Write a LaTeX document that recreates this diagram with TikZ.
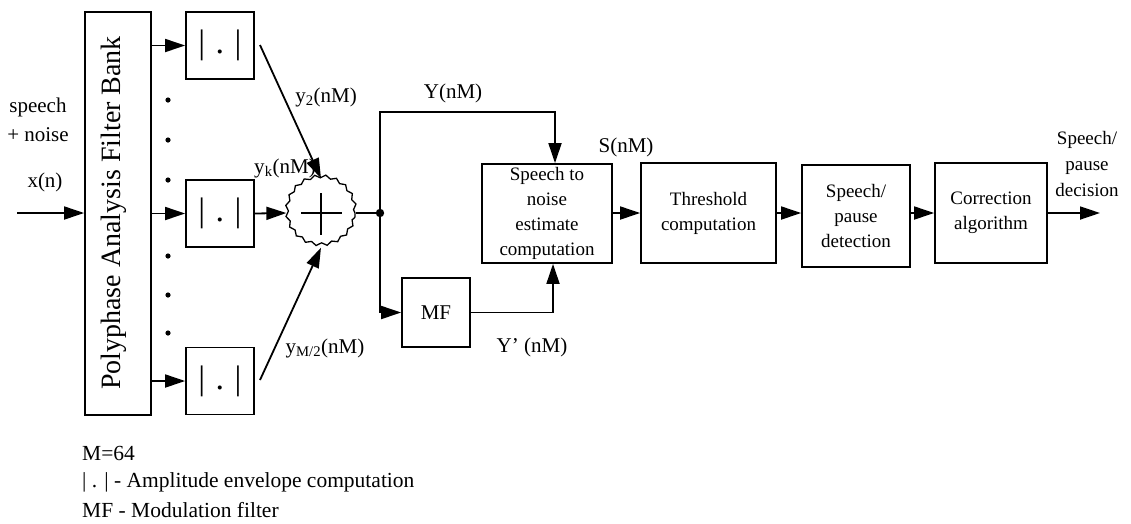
\documentclass[tikz,border=0pt]{standalone}
\usepackage{fontspec}
\setmainfont{Liberation Serif}
\usetikzlibrary{arrows.meta,decorations.pathmorphing}
\begin{document}
\begin{tikzpicture}[x=1pt,y=-1pt,
  box/.style={draw,line width=1.8pt,inner sep=0pt,align=center,font=\fontsize{19}{25}\selectfont},
  absbox/.style={box,minimum width=68pt,minimum height=67pt,font=\fontsize{34}{34}\selectfont},
  lbl/.style={inner sep=0pt,align=center,font=\fontsize{21}{27}\selectfont},
  legend/.style={inner sep=0pt,anchor=west,font=\fontsize{21.5}{26}\selectfont},
  arr/.style={line width=1.8pt,-{Triangle[length=20pt,width=13pt]}},
  ln/.style={line width=1.8pt}]
\useasboundingbox (0,0) rectangle (1131,523);
% filter bank
\node[box,minimum width=66pt,minimum height=403pt] (pfb) at (118,213.5) {};
\node[rotate=90,inner sep=0pt,font=\fontsize{28}{30}\selectfont] (pfbt) at (114,213) {Polyphase Analysis Filter Bank};
% envelope boxes
\node[absbox] (a1) at (220,45.5) {|\hspace{10.5pt}.\hspace{10.5pt}|};
\node[absbox] (a2) at (220,213.5) {|\hspace{10.5pt}.\hspace{10.5pt}|};
\node[absbox] (a3) at (220,381) {|\hspace{10.5pt}.\hspace{10.5pt}|};
% dots
\foreach \yy in {100,140,180,256,295,333} \fill (168,\yy) circle (2.6pt);
% summer
\node[circle,draw,line width=1.3pt,minimum size=68pt,inner sep=0pt,decorate,
      decoration={snake,segment length=10.68pt,amplitude=1.5pt}] (sum) at (321,213) {};
\draw[ln] ([xshift=-20pt]sum.center) -- ([xshift=21pt]sum.center);
\draw[ln] ([yshift=20pt]sum.center) -- ([yshift=-22pt]sum.center);
% other blocks
\node[box,minimum width=130pt,minimum height=99pt] (sne) at (547,213.5) {Speech to\\noise\\estimate\\computation};
\node[box,minimum width=68pt,minimum height=69pt,font=\fontsize{21}{25}\selectfont] (mf) at (436,312.5) {MF};
\node[box,minimum width=135pt,minimum height=100pt] (thr) at (708.5,213) {Threshold\\computation};
\node[box,minimum width=108pt,minimum height=102pt] (spd) at (856,216) {Speech/\\pause\\detection};
\node[box,minimum width=112pt,minimum height=100pt] (cor) at (991,213) {Correction\\algorithm};
% coordinates
\coordinate (in) at (17,213);
\coordinate (d1) at (260,45);
\coordinate (d3) at (260,380);
\coordinate (j) at (380,213);
\coordinate (ytop) at (555,112);
\coordinate (out) at (1100,213);
% connectors
\draw[arr] (in) -- (in -| pfb.west);
\draw[arr] (pfb.east |- a1) -- (a1.west);
\draw[arr] (pfb.east |- a2) -- (a2.west);
\draw[arr] (pfb.east |- a3) -- (a3.west);
\draw[arr] (a2.east) -- (sum.west);
\draw[arr] (d1) -- (sum.north);
\draw[arr] (d3) -- (sum.south);
\draw[ln] (sum.east) -- (j);
\fill (j) circle (4.2pt);
\draw[arr] (j) |- (ytop) -- (ytop |- sne.north);
\draw[arr] (j) |- (mf.west);
\draw[arr] (mf.east) -| ([xshift=6pt]sne.south);
\draw[arr] (sne.east |- thr.west) -- (thr.west);
\draw[arr] (thr.east) -- (thr.east -| spd.west);
\draw[arr] (thr.east -| spd.east) -- (cor.west);
\draw[arr] (cor.east) -- (out);
% labels
\node[lbl] (lsp) at (38,107) {speech};
\node[lbl] (lno) at (38,135) {+ noise};
\node[lbl] (lx) at (45,182) {x(n)};
\node[lbl] (ly2) at (326,97) {y\textsubscript{2}(nM)};
\node[lbl] (lyk) at (285,168) {y\textsubscript{k}(nM)};
\node[lbl] (lym) at (325,348) {y\textsubscript{M/2}(nM)};
\node[lbl] (lY) at (453,93) {Y(nM)};
\node[lbl] (lYp) at (532,347) {Y’ (nM)};
\node[lbl] (lS) at (626,147) {S(nM)};
\node[lbl,font=\fontsize{19}{26}\selectfont] (ldec) at (1087,164) {Speech/\\pause\\decision};
% legend
\node[legend] (g1) at (82,453) {M=64};
\node[legend] (g2) at (82,482) {| . | - Amplitude envelope computation};
\node[legend] (g3) at (82,510) {MF - Modulation filter};
\end{tikzpicture}
\end{document}
